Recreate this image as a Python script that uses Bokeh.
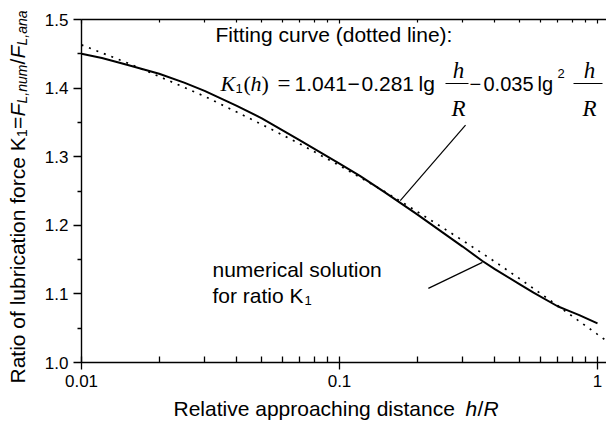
import math
from bokeh.plotting import figure
from bokeh.models import Label, FixedTicker, LogAxis, CustomJSTickFormatter, PrintfTickFormatter, Range1d
from bokeh.embed import file_html
from bokeh.resources import INLINE

# ---- data ----
# numerical solution (solid line)
H_NUM = [0.01, 0.012, 0.015, 0.02, 0.025, 0.03, 0.04, 0.05, 0.07, 0.1, 0.12, 0.15, 0.2, 0.25,
         0.3, 0.358, 0.4, 0.5, 0.565, 0.7, 0.766, 0.85, 1.0]
K_NUM = [1.450, 1.444, 1.434, 1.421, 1.408, 1.396, 1.374, 1.356, 1.324, 1.290, 1.272, 1.248, 1.216, 1.190,
         1.169, 1.148, 1.136, 1.114, 1.102, 1.082, 1.076, 1.069, 1.057]
# fitting curve (dotted line)
H_FIT = [0.01, 0.015, 0.02, 0.03, 0.04, 0.05, 0.07, 0.1, 0.15, 0.2, 0.3, 0.4, 0.5, 0.7, 1.0, 1.08]
K_FIT = [1.463, 1.437, 1.417, 1.388, 1.365, 1.347, 1.319, 1.287, 1.249, 1.220, 1.178, 1.147, 1.122, 1.083, 1.041, 1.032]
# leader lines of the two notes
LEAD_FIT_H = [0.172, 0.308]
LEAD_FIT_K = [1.236, 1.346]
LEAD_NUM_H = [0.221, 0.358]
LEAD_NUM_K = [1.108, 1.146]
# ticks
X_TICKS = [0.01, 0.1, 1]
X_MINOR = [0.02, 0.03, 0.04, 0.05, 0.06, 0.07, 0.08, 0.09, 0.2, 0.3, 0.4, 0.5, 0.6, 0.7, 0.8, 0.9]
Y_TICKS = [1.0, 1.1, 1.2, 1.3, 1.4, 1.5]
Y_MINOR = [1.05, 1.15, 1.25, 1.35, 1.45]

# ---- layout ----
W, H = 606, 429
FL, FT, FB = 81, 19, 67          # data area inside the canvas
DEC = 258.0                       # pixels per decade
XMIN = 0.01
XMAX = 10 ** (math.log10(XMIN) + (W - FL) / DEC)
YMIN, YMAX = 1.0, 1.5
YPX = (H - FT - FB) / (YMAX - YMIN)
# the frame fills the whole canvas; axes sit at fixed locations
X_LO = 10 ** (math.log10(XMIN) - FL / DEC)
Y_LO = YMIN - FB / YPX
Y_HI = YMAX + FT / YPX
SHIFT = 8  # renderer draws the alphabetic baseline this much lower

SANS = "Liberation Sans"
SERIF = "Liberation Serif"

p = figure(width=W, height=H, x_axis_type="log",
           x_range=Range1d(X_LO, XMAX), y_range=Range1d(Y_LO, Y_HI),
           output_backend="svg", toolbar_location=None, min_border=0)
p.grid.visible = False
p.outline_line_color = None
p.background_fill_color = "white"
p.border_fill_color = "white"


def px(sx, sy):
    return 10 ** (math.log10(XMIN) + (sx - FL) / DEC), YMIN + ((H - FB) - sy) / YPX


def lab(text, sx, sy, size, font=SANS, style="normal", align="left", angle=0.0):
    # sx, sy: wanted canvas position (left end of baseline), pixels from top-left
    if angle == 0.0:
        x, y = sx, sy - SHIFT
    else:
        x, y = sx - SHIFT, sy
    p.add_layout(Label(x=x, y=y, x_units="canvas", y_units="canvas", text=text,
                       text_font=font, text_font_size=f"{size}px",
                       text_font_style=style, text_align=align, text_baseline="alphabetic",
                       angle=angle, text_color="black"))


def hline(sx0, sx1, sy, w=1.2):
    x0, y0 = px(sx0, sy)
    x1, y1 = px(sx1, sy)
    p.line([x0, x1], [y0, y1], line_color="black", line_width=w)


# axes
xa = p.xaxis[0]
xa.ticker = FixedTicker(ticks=X_TICKS, minor_ticks=X_MINOR)
xa.formatter = CustomJSTickFormatter(code="return String(tick);")
xa.fixed_location = YMIN
xa.bounds = (XMIN, XMAX)
ya = p.yaxis[0]
ya.ticker = FixedTicker(ticks=Y_TICKS, minor_ticks=Y_MINOR)
ya.formatter = PrintfTickFormatter(format="%.1f")
ya.fixed_location = XMIN
ya.bounds = (YMIN, YMAX)
for ax in (xa, ya):
    ax.axis_line_width = 1.4
    ax.major_tick_line_width = 1.3
    ax.minor_tick_line_width = 1.3
    ax.axis_line_color = "black"
    ax.major_tick_line_color = "black"
    ax.minor_tick_line_color = "black"
    ax.major_label_text_font = SANS
    ax.major_label_text_font_size = "17px"
    ax.major_label_text_color = "black"
xa.major_tick_in = 6
xa.major_tick_out = 7
xa.minor_tick_in = 6
xa.minor_tick_out = 0
xa.major_label_standoff = 5
ya.major_tick_in = 0
ya.major_tick_out = 8
ya.minor_tick_in = 0
ya.minor_tick_out = 4
ya.major_label_standoff = 5

top = LogAxis(ticker=FixedTicker(ticks=X_TICKS, minor_ticks=X_MINOR),
              fixed_location=YMAX, bounds=(XMIN, XMAX),
              major_tick_in=4, major_tick_out=0, minor_tick_in=3, minor_tick_out=0,
              major_label_text_font_size="6px", major_label_text_alpha=0.0, major_label_standoff=0,
              axis_line_width=1.4, major_tick_line_width=1.2, minor_tick_line_width=1.2)
p.add_layout(top, "above")

# curves
p.line(H_NUM, K_NUM, line_color="black", line_width=2.0)
p.line(H_FIT, K_FIT, line_color="black", line_width=1.7, line_dash="2 6")
p.line(LEAD_FIT_H, LEAD_FIT_K, line_color="black", line_width=1.2)
p.line(LEAD_NUM_H, LEAD_NUM_K, line_color="black", line_width=1.2)

# note: fitting curve
lab("Fitting curve (dotted line):", 215, 42, 21)
BL = 91
lab("K", 220, BL, 22, SERIF, "italic")
lab("1", 235, BL + 5, 13)
lab("(", 243, BL, 22, SERIF)
lab("h", 250, BL, 22, SERIF, "italic")
lab(")", 261, BL, 22, SERIF)
lab("=", 277, BL, 23, SERIF)
lab("1.041", 294, BL, 21)
lab("\u2212", 347, BL, 21)
lab("0.281", 361, BL, 21)
lab("lg", 418, BL, 21)
hline(445, 468, 83)
lab("h", 458, 78, 23, SERIF, "italic", "center")
lab("R", 458, 116, 23, SERIF, "italic", "center")
lab("\u2212", 469, BL, 20)
lab("0.035", 483, BL, 20)
lab("lg", 537, BL, 20)
lab("2", 557, 81, 13)
hline(573, 602, 83)
lab("h", 589, 78, 23, SERIF, "italic", "center")
lab("R", 589, 116, 23, SERIF, "italic", "center")

# note: numerical solution
lab("numerical solution", 212, 277, 21)
lab("for ratio K", 212, 303, 21)
lab("1", 304, 308, 13)

# x axis title
XB = 416
lab("Relative approaching distance ", 173, XB, 21)
lab("h", 465, XB, 21, SANS, "italic")
lab("/", 477, XB, 21)
lab("R", 483, XB, 21, SANS, "italic")

# y axis title (rotated)
A = math.pi / 2
lab("Ratio of lubrication force K", 25, 383, 21, angle=A)
lab("1", 29, 136.5, 14, angle=A)
lab("=", 25, 128.5, 21, angle=A)
lab("F", 25, 116, 21, SANS, "italic", angle=A)
lab("L,num", 29, 103, 14, SANS, "italic", angle=A)
lab("/", 25, 64, 21, angle=A)
lab("F", 25, 58, 21, SANS, "italic", angle=A)
lab("L,ana", 29, 45, 14, SANS, "italic", angle=A)

open("out.html", "w").write(file_html(p, INLINE))
